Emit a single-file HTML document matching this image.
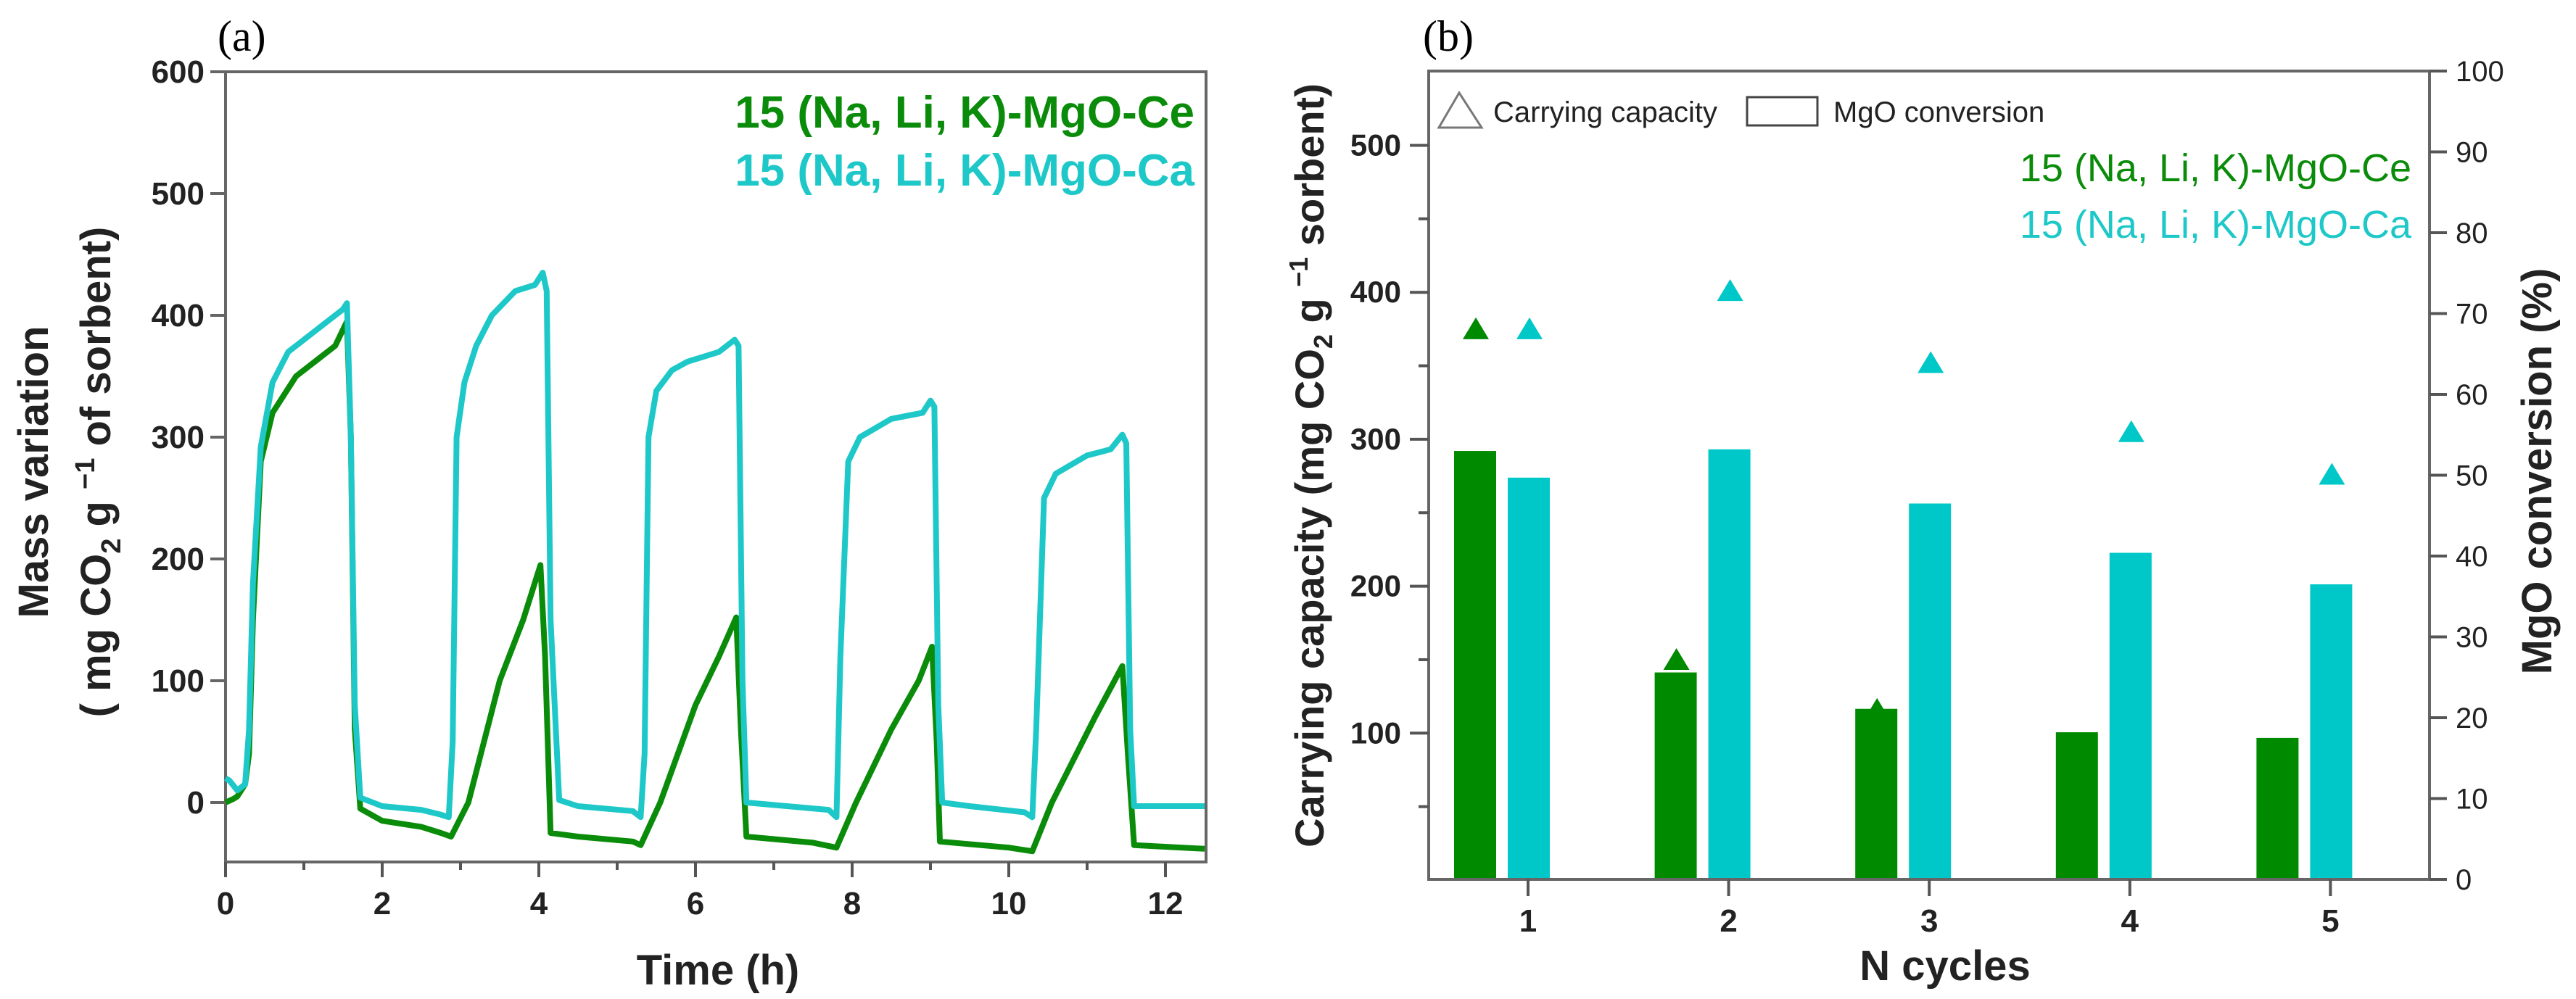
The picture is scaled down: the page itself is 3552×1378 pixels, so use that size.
<!DOCTYPE html>
<html><head><meta charset="utf-8"><style>
html,body{margin:0;padding:0;background:#fff;}
svg{display:block;font-family:"Liberation Sans",sans-serif;}
</style></head><body>
<svg id="chart" width="3552" height="1378" viewBox="0 0 3552 1378">
<g id="pa"></g>
<g id="pb"></g>
</svg>
<script>
// ---- Panel (a) data ----
const caTime = [0,0.05,0.15,0.25,0.3,0.35,0.45,0.6,0.8,1.0,
                1.3,1.5,1.55,1.6,1.65,1.72,2.0,2.5,2.75,2.85,
                2.9,2.95,3.05,3.2,3.4,3.7,3.95,4.05,4.1,4.15,
                4.26,4.5,5.2,5.3,5.35,5.4,5.5,5.7,5.9,6.3,
                6.5,6.55,6.6,6.65,7.0,7.7,7.8,7.85,7.95,8.1,
                8.5,8.9,9.0,9.05,9.1,9.15,9.5,10.2,10.3,10.35,
                10.45,10.6,11.0,11.3,11.45,11.5,11.55,11.6,12.0,12.5];
const caVal  = [20,18,10,15,60,180,292,345,370,380,
                395,405,410,300,80,4,-3,-6,-10,-12,
                50,300,345,375,400,420,425,435,420,150,
                2,-3,-7,-12,40,300,338,355,362,370,
                380,375,100,0,-2,-6,-12,120,280,300,
                315,320,330,325,80,0,-3,-8,-12,60,
                250,270,285,290,302,295,60,-3,-3,-3];
const ceTime = [0,0.1,0.15,0.25,0.3,0.35,0.45,0.6,0.9,1.2,
                1.4,1.55,1.6,1.65,1.72,2.0,2.5,2.75,2.88,3.1,
                3.5,3.8,4.02,4.08,4.15,4.5,5.2,5.3,5.55,6.0,
                6.3,6.52,6.58,6.65,7.5,7.8,8.05,8.5,8.85,9.02,
                9.08,9.12,10.0,10.3,10.55,11.1,11.45,11.52,11.6,12.5];
const ceVal  = [0,3,5,15,40,150,280,320,350,365,
                375,395,300,60,-5,-15,-20,-25,-28,0,
                100,150,195,120,-25,-28,-32,-35,0,80,
                120,152,60,-28,-33,-37,0,60,100,128,
                50,-32,-37,-40,0,70,112,40,-35,-38];
const aYTicks = [0,100,200,300,400,500,600];
const aXTicks = [0,2,4,6,8,10,12];
// ---- Panel (b) data ----
const cycles = ["1","2","3","4","5"];
const ceConv = [53.0,25.6,21.1,18.2,17.5];
const caConv = [49.7,53.2,46.5,40.4,36.5];
const ceCap  = [375,150,116,null,null];
const caCap  = [375,401,352,305,276];
const bLeftTicks = [100,200,300,400,500];
const bRightTicks = [0,10,20,30,40,50,60,70,80,90,100];

const NS="http://www.w3.org/2000/svg";
function mk(parent,tag,attrs,text){const e=document.createElementNS(NS,tag);for(const k in attrs)e.setAttribute(k,attrs[k]);if(text!==undefined)e.textContent=text;parent.appendChild(e);return e;}
const GREEN="#0a8c0a", CYAN="#1ec8c8", BGREEN="#008a00", BCYAN="#00c8c8";

// ===== Panel a =====
const pa=document.getElementById('pa');
const ax=t=>311+t*108, ay=v=>1107-v*1.68;
let e;
e=mk(pa,'text',{x:300,y:70,'font-family':'Liberation Serif, serif','font-size':60});e.textContent='(a)';


e=mk(pa,'rect',{x:311,y:99,width:1352,height:1090,fill:'none',stroke:'#666','stroke-width':4});


aYTicks.forEach(v=>{
  const l=mk(pa,'line',{x1:290,x2:311,y1:ay(v),y2:ay(v),stroke:'#666','stroke-width':4});
  
  
  const t=mk(pa,'text',{x:282,y:ay(v)+15,'text-anchor':'end','font-size':44,'font-weight':'bold',fill:'#222'},String(v));
  
  
});
for(let h=0;h<=12;h++){
  const major=h%2===0;
  const l=mk(pa,'line',{x1:ax(h),x2:ax(h),y1:1189,y2:1189+(major?21:11),stroke:'#555','stroke-width':4});
  
  
}
aXTicks.forEach(h=>{
  const t=mk(pa,'text',{x:ax(h),y:1261,'text-anchor':'middle','font-size':44,'font-weight':'bold',fill:'#222'},String(h));
  
  
});
e=mk(pa,'text',{x:990,y:1358,'text-anchor':'middle','font-size':58,'font-weight':'bold',fill:'#222'},'Time (h)');


e=mk(pa,'text',{transform:'translate(66,651) rotate(-90)','text-anchor':'middle','font-size':58,'font-weight':'bold',fill:'#222'},'Mass variation');


e=mk(pa,'text',{transform:'translate(152,651) rotate(-90)','text-anchor':'middle','font-size':58,'font-weight':'bold',fill:'#222'});
e.innerHTML='( mg CO<tspan font-size="38" dy="14">2</tspan><tspan dy="-14"> g </tspan><tspan font-size="38" dy="-22">−1</tspan><tspan dy="22"> of sorbent)</tspan>';


function series(times,vals,color,name){
  const d=times.map((t,i)=>(i?'L':'M')+ax(t).toFixed(1)+' '+ay(vals[i]).toFixed(1)).join(' ');
  const p=mk(pa,'path',{d:d,fill:'none',stroke:color,'stroke-width':8,'stroke-linejoin':'round'});
  
  
}
series(ceTime,ceVal,GREEN,'line-mgo-ce');
series(caTime,caVal,CYAN,'line-mgo-ca');
e=mk(pa,'text',{x:1647,y:176,'text-anchor':'end','font-size':62,'font-weight':'bold',fill:GREEN},'15 (Na, Li, K)-MgO-Ce');


e=mk(pa,'text',{x:1647,y:256,'text-anchor':'end','font-size':62,'font-weight':'bold',fill:CYAN},'15 (Na, Li, K)-MgO-Ca');



// ===== Panel b =====
const pb=document.getElementById('pb');
const bx=i=>2107+i*276.6, yL=v=>1214-v*2.027, yR=p=>1213-p*11.15;
e=mk(pb,'text',{x:1962,y:70,'font-family':'Liberation Serif, serif','font-size':60},'(b)');


cycles.forEach((c,i)=>{
  let r=mk(pb,'rect',{x:bx(i)-73-29,y:yR(ceConv[i]),width:58,height:1213-yR(ceConv[i]),fill:BGREEN});
  
  
  r=mk(pb,'rect',{x:bx(i)-28,y:yR(caConv[i]),width:58,height:1213-yR(caConv[i]),fill:BCYAN});
  
  
});
function tri(cx,cy,color,name){
  const p=mk(pb,'path',{d:`M${cx} ${cy-16} L${cx+18} ${cy+14} L${cx-18} ${cy+14} Z`,fill:color});
  
  
}
cycles.forEach((c,i)=>{
  if(ceCap[i]!==null) tri(bx(i)-72,yL(ceCap[i]),BGREEN,'marker-ce-cycle-'+c);
  if(caCap[i]!==null) tri(bx(i)+2,yL(caCap[i]),BCYAN,'marker-ca-cycle-'+c);
});
e=mk(pb,'rect',{x:1970,y:98,width:1380,height:1115,fill:'none',stroke:'#666','stroke-width':4});


for(let v=50;v<=500;v+=50){
  const l=mk(pb,'line',{x1:1970-(v%100===0?26:14),x2:1970,y1:yL(v),y2:yL(v),stroke:'#555','stroke-width':4});
  
  
}
bLeftTicks.forEach(v=>{
  const t=mk(pb,'text',{x:1932,y:yL(v)+14,'text-anchor':'end','font-size':42,'font-weight':'bold',fill:'#222'},String(v));
  
  
});
bRightTicks.forEach(p=>{
  const l=mk(pb,'line',{x1:3350,x2:3374,y1:yR(p),y2:yR(p),stroke:'#555','stroke-width':4});
  
  
  const t=mk(pb,'text',{x:3386,y:yR(p)+14,'font-size':40,fill:'#222'},String(p));
  
  
});
cycles.forEach((c,i)=>{
  const l=mk(pb,'line',{x1:bx(i),x2:bx(i),y1:1213,y2:1236,stroke:'#555','stroke-width':4});
  
  
  const t=mk(pb,'text',{x:bx(i),y:1285,'text-anchor':'middle','font-size':44,'font-weight':'bold',fill:'#222'},c);
  
  
});
e=mk(pb,'text',{x:2682,y:1352,'text-anchor':'middle','font-size':58,'font-weight':'bold',fill:'#222'},'N cycles');


e=mk(pb,'text',{transform:'translate(1825,642) rotate(-90)','text-anchor':'middle','font-size':56,'font-weight':'bold',fill:'#222'});
e.innerHTML='Carrying capacity (mg CO<tspan font-size="36" dy="12">2</tspan><tspan dy="-12"> g </tspan><tspan font-size="36" dy="-22">−1</tspan><tspan dy="22"> sorbent)</tspan>';


e=mk(pb,'text',{transform:'translate(3518,650) rotate(-90)','text-anchor':'middle','font-size':58,'font-weight':'bold',fill:'#222'},'MgO conversion (%)');


e=mk(pb,'path',{d:'M2012 128 L2043 176 L1984 176 Z',fill:'none',stroke:'#777','stroke-width':3});


e=mk(pb,'text',{x:2059,y:168,'font-size':40,fill:'#222'},'Carrying capacity');


e=mk(pb,'rect',{x:2409,y:134,width:97,height:39,fill:'none',stroke:'#444','stroke-width':3});


e=mk(pb,'text',{x:2528,y:168,'font-size':40,fill:'#222'},'MgO conversion');


e=mk(pb,'text',{x:3325,y:250,'text-anchor':'end','font-size':54,fill:GREEN},'15 (Na, Li, K)-MgO-Ce');


e=mk(pb,'text',{x:3325,y:328,'text-anchor':'end','font-size':54,fill:CYAN},'15 (Na, Li, K)-MgO-Ca');


</script>
</body></html>
